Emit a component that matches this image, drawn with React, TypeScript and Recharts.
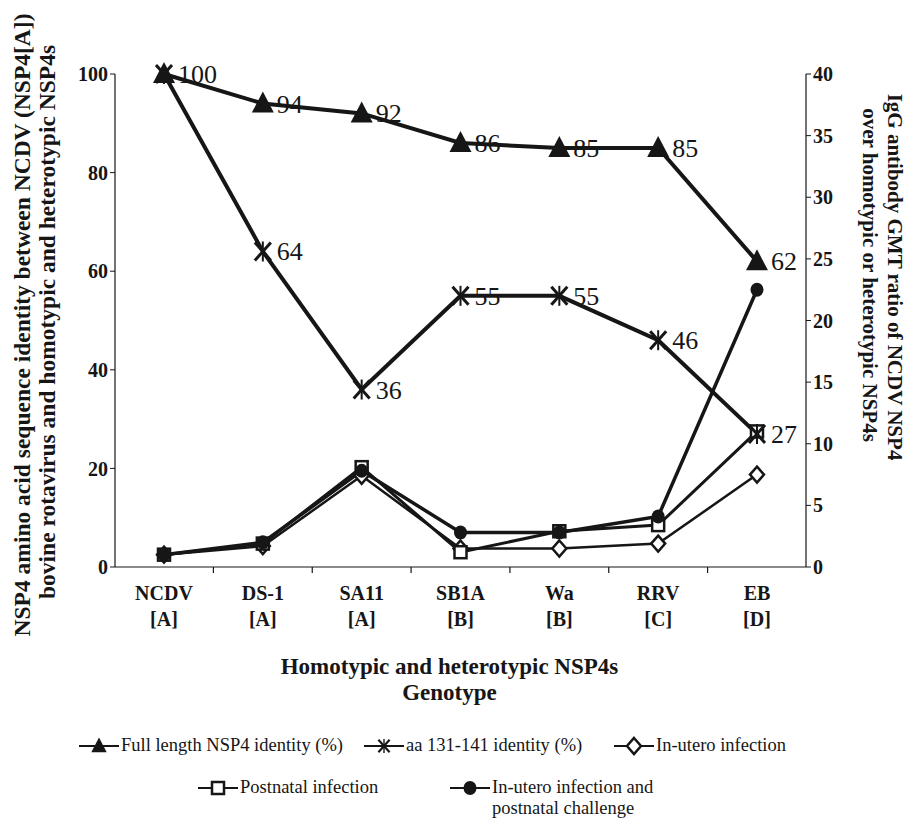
import React from 'react';
import { LineChart, Line, XAxis, YAxis } from 'recharts';

const genotypes = ['NCDV', 'DS-1', 'SA11', 'SB1A', 'Wa', 'RRV', 'EB'];
const genotypeGroups = ['[A]', '[A]', '[A]', '[B]', '[B]', '[C]', '[D]'];

// left axis: % identity
const fullLengthIdentity = [100, 94, 92, 86, 85, 85, 62];
const aaIdentity = [100, 64, 36, 55, 55, 46, 27];

// right axis: IgG GMT ratio
const inUteroInfection = [1.0, 1.7, 7.4, 1.5, 1.5, 1.9, 7.5];
const postnatalInfection = [1.0, 1.9, 8.1, 1.2, 2.9, 3.4, 11.0];
const inUteroChallenge = [1.0, 2.0, 7.8, 2.8, 2.8, 4.1, 22.5];

const pctTicks = [0, 20, 40, 60, 80, 100];
const gmtTicks = [0, 5, 10, 15, 20, 25, 30, 35, 40];

const data = genotypes.map((g, i) => ({
  genotype: g,
  full: fullLengthIdentity[i],
  aa: aaIdentity[i],
  utero: inUteroInfection[i],
  postnatal: postnatalInfection[i],
  challenge: inUteroChallenge[i],
}));

const INK = '#161616';
const SERIF = '"Liberation Serif", "Times New Roman", serif';

type Kind = 'triangle' | 'star' | 'diamond' | 'square' | 'circle';

function Marker({ kind, cx, cy }: { kind: Kind; cx: number; cy: number }) {
  if (kind === 'triangle')
    return <polygon points={`${cx},${cy - 12} ${cx + 11},${cy + 9} ${cx - 11},${cy + 9}`} fill={INK} />;
  if (kind === 'star')
    return (
      <g stroke={INK} strokeWidth={3}>
        <line x1={cx - 8} y1={cy - 9} x2={cx + 8} y2={cy + 9} />
        <line x1={cx + 8} y1={cy - 9} x2={cx - 8} y2={cy + 9} />
        <line x1={cx} y1={cy - 10} x2={cx} y2={cy + 10} strokeWidth={2} />
      </g>
    );
  if (kind === 'diamond')
    return (
      <polygon
        points={`${cx},${cy - 8} ${cx + 7},${cy} ${cx},${cy + 8} ${cx - 7},${cy}`}
        fill="#fff"
        stroke={INK}
        strokeWidth={2.5}
      />
    );
  if (kind === 'square')
    return <rect x={cx - 6} y={cy - 6} width={12} height={12} fill="#fff" stroke={INK} strokeWidth={2.5} />;
  return <ellipse cx={cx} cy={cy} rx={6.5} ry={7} fill={INK} />;
}

const dot = (kind: Kind) => (p: any) => <Marker key={`${kind}-${p.index}`} kind={kind} cx={p.cx} cy={p.cy} />;

const valueLabel = (skipFirst: boolean) => (p: any) => {
  if (skipFirst && p.index === 0) return <g key={p.index} />;
  return (
    <text key={p.index} x={p.x + 14} y={p.y + 9} fontSize={26} fill={INK} style={{ fontFamily: SERIF }}>
      {p.value}
    </text>
  );
};

const STEP = (806 - 115 - 98) / 6;

function GenotypeTick({ x, y, payload, index }: any) {
  return (
    <g>
      <text x={x} y={y + 33} textAnchor="middle" fontSize={20} fontWeight="bold" fontFamily={SERIF} fill={INK}>
        {payload.value}
      </text>
      <text x={x} y={y + 59} textAnchor="middle" fontSize={20} fontWeight="bold" fontFamily={SERIF} fill={INK}>
        {genotypeGroups[index]}
      </text>
      {index < genotypes.length - 1 && (
        <line x1={x + STEP / 2} x2={x + STEP / 2} y1={y} y2={y + 6} stroke={INK} strokeWidth={1.2} />
      )}
    </g>
  );
}

const legendItems: { kind: Kind; label: string[]; left: number; top: number }[] = [
  { kind: 'triangle', label: ['Full length NSP4 identity (%)'], left: 79, top: 735 },
  { kind: 'star', label: ['aa 131-141 identity (%)'], left: 364, top: 735 },
  { kind: 'diamond', label: ['In-utero infection'], left: 614, top: 735 },
  { kind: 'square', label: ['Postnatal infection'], left: 198, top: 777 },
  { kind: 'circle', label: ['In-utero infection and', 'postnatal challenge'], left: 450, top: 777 },
];

function LegendIcon({ kind }: { kind: Kind }) {
  return (
    <svg width={40} height={22} style={{ flex: 'none' }}>
      <line x1={0} x2={40} y1={11} y2={11} stroke={INK} strokeWidth={2} />
      <g transform={kind === 'triangle' || kind === 'star' ? 'translate(20 11) scale(0.7) translate(-20 -11)' : undefined}>
        <Marker kind={kind} cx={20} cy={11} />
      </g>
    </svg>
  );
}

export default function App() {
  const axisTick = { fontSize: 20, fontWeight: 'bold', fontFamily: SERIF, fill: INK };
  return (
    <div style={{ position: 'absolute', left: 0, top: 0, width: 913, height: 820, background: '#fff', fontFamily: SERIF, color: INK }}>
      <LineChart width={913} height={820} data={data} margin={{ top: 74, right: 47, bottom: 193, left: 55 }}>
        <XAxis
          dataKey="genotype"
          height={60}
          padding={{ left: 49, right: 49 }}
          axisLine={{ stroke: INK, strokeWidth: 1.2 }}
          tickLine={false}
          tickSize={0}
          tickMargin={0}
          interval={0}
          tick={<GenotypeTick />}
          label={{
            content: (p: any) => {
              const vb = p.viewBox;
              const cx = vb.x + vb.width / 2 - 11;
              return (
                <text textAnchor="middle" fontSize={23} fontWeight="bold" fontFamily={SERIF} fill={INK}>
                  <tspan x={cx} y={vb.y + 107}>Homotypic and heterotypic NSP4s</tspan>
                  <tspan x={cx} y={vb.y + 133}>Genotype</tspan>
                </text>
              );
            },
          }}
        />
        <YAxis
          yAxisId="pct"
          width={60}
          domain={[0, 100]}
          ticks={pctTicks}
          interval={0}
          axisLine={{ stroke: INK, strokeWidth: 1.2 }}
          tickLine={{ stroke: INK }}
          tickSize={5}
          tick={axisTick}
          label={{
            content: () => (
              <g fontSize={23.5} fontWeight="bold" fontFamily={SERIF} fill={INK} textAnchor="middle">
                <text transform="translate(22 325) rotate(-90)" dominantBaseline="central">
                  NSP4 amino acid sequence identity between NCDV (NSP4[A])
                </text>
                <text transform="translate(47 322) rotate(-90)" dominantBaseline="central">
                  bovine rotavirus and homotypic and heterotypic NSP4s
                </text>
              </g>
            ),
          }}
        />
        <YAxis
          yAxisId="gmt"
          orientation="right"
          width={60}
          domain={[0, 40]}
          ticks={gmtTicks}
          interval={0}
          axisLine={{ stroke: INK, strokeWidth: 1.2 }}
          tickLine={{ stroke: INK }}
          tickSize={5}
          tick={axisTick}
          label={{
            content: () => (
              <g fontSize={21} fontWeight="bold" fontFamily={SERIF} fill={INK} textAnchor="middle">
                <text transform="translate(895 277) rotate(90)" dominantBaseline="central">
                  IgG antibody GMT ratio of NCDV NSP4
                </text>
                <text transform="translate(870 275) rotate(90)" dominantBaseline="central">
                  over homotypic or heterotypic NSP4s
                </text>
              </g>
            ),
          }}
        />
        <Line yAxisId="gmt" dataKey="utero" stroke={INK} strokeWidth={2.5} dot={dot('diamond')} isAnimationActive={false} />
        <Line yAxisId="gmt" dataKey="postnatal" stroke={INK} strokeWidth={3} dot={dot('square')} isAnimationActive={false} />
        <Line yAxisId="gmt" dataKey="challenge" stroke={INK} strokeWidth={3.5} dot={dot('circle')} isAnimationActive={false} />
        <Line yAxisId="pct" dataKey="aa" stroke={INK} strokeWidth={4} dot={dot('star')} label={valueLabel(true)} isAnimationActive={false} />
        <Line yAxisId="pct" dataKey="full" stroke={INK} strokeWidth={4} dot={dot('triangle')} label={valueLabel(false)} isAnimationActive={false} />
      </LineChart>

      {legendItems.map((item) => (
        <div
          key={item.kind}
          style={{
            position: 'absolute',
            left: item.left,
            top: item.top,
            display: 'flex',
            alignItems: 'flex-start',
            gap: 2,
            fontSize: 18.5,
            lineHeight: '21px',
            whiteSpace: 'nowrap',
          }}
        >
          <LegendIcon kind={item.kind} />
          <div>
            {item.label.map((l) => (
              <div key={l}>{l}</div>
            ))}
          </div>
        </div>
      ))}
    </div>
  );
}
